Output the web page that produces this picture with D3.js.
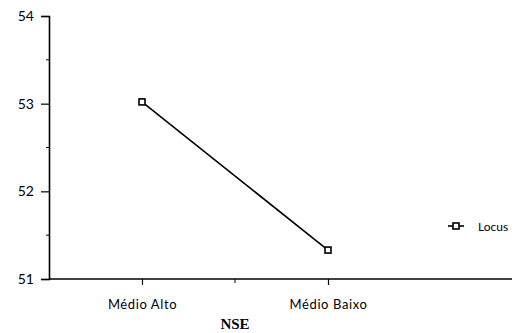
<!DOCTYPE html>
<html><head><meta charset="utf-8">
<script src="https://cdn.jsdelivr.net/npm/d3@7"></script>
<style>body{margin:0;background:#fff}svg{display:block}</style>
</head><body>
<script>
const categories = ["Médio Alto", "Médio Baixo"];
const locusValues = [53.02, 51.33];
const yTicks = [51, 52, 53, 54];
const yMinorTicks = [51.5, 52.5, 53.5];
const seriesName = "Locus";
const xTitle = "NSE";

const W = 525, H = 333;
const svg = d3.select("body").append("svg").attr("width", W).attr("height", H);

const x = d3.scalePoint().domain(categories).range([49, 421]).padding(0.5);
const y = d3.scaleLinear().domain([51, 54]).range([279, 16]);

const font = "'Lato', 'Open Sans', sans-serif";

// Y axis
const yAxis = d3.axisLeft(y).tickValues(yTicks).tickFormat(d3.format("d")).tickSize(8).tickPadding(7);
const gy = svg.append("g").attr("transform", "translate(49,0)").call(yAxis);
gy.select(".domain").attr("stroke", "#000").attr("stroke-width", 1.6);
gy.selectAll(".tick line").attr("stroke", "#000").attr("stroke-width", 1.2);
gy.selectAll(".tick text").attr("font-family", font).attr("font-size", 14).attr("fill", "#000");
svg.append("g").selectAll("line").data(yMinorTicks).join("line")
  .attr("x1", 46).attr("x2", 49).attr("y1", d => y(d)).attr("y2", d => y(d))
  .attr("stroke", "#000").attr("stroke-width", 1);

// X axis
svg.append("line").attr("x1", 49).attr("x2", 512).attr("y1", y(51)).attr("y2", y(51))
  .attr("stroke", "#000").attr("stroke-width", 1.6);
const xAxis = d3.axisBottom(x).tickSize(6).tickPadding(15);
const gx = svg.append("g").attr("transform", `translate(0,${y(51)})`).call(xAxis);
gx.select(".domain").remove();
gx.selectAll(".tick line").attr("stroke", "#000").attr("stroke-width", 1.2);
gx.selectAll(".tick text").attr("font-family", font).attr("font-size", 13)
  .attr("letter-spacing", "0.6px").attr("fill", "#000");
// mid tick between categories
const mid = (x(categories[0]) + x(categories[1])) / 2;
svg.append("line").attr("x1", mid).attr("x2", mid).attr("y1", y(51)).attr("y2", y(51) + 4)
  .attr("stroke", "#000").attr("stroke-width", 1);

// X title
svg.append("text").attr("x", mid).attr("y", 329).attr("text-anchor", "middle")
  .attr("font-family", "'Liberation Serif', 'DejaVu Serif', serif").attr("font-weight", "bold")
  .attr("font-size", 15).attr("fill", "#000").text(xTitle);

// Line
const data = categories.map((c, i) => ({c, v: locusValues[i]}));
svg.append("path").datum(data)
  .attr("d", d3.line().x(d => x(d.c)).y(d => y(d.v)))
  .attr("fill", "none").attr("stroke", "#000").attr("stroke-width", 1.6);
svg.append("g").selectAll("rect").data(data).join("rect")
  .attr("x", d => x(d.c) - 3).attr("y", d => y(d.v) - 3)
  .attr("width", 6).attr("height", 6)
  .attr("fill", "#fff").attr("stroke", "#000").attr("stroke-width", 1.6);

// Legend
const lg = svg.append("g").attr("transform", "translate(456,226)");
lg.append("line").attr("x1", -8).attr("x2", 8).attr("y1", 0).attr("y2", 0)
  .attr("stroke", "#000").attr("stroke-width", 1.6);
lg.append("rect").attr("x", -3).attr("y", -3).attr("width", 6).attr("height", 6)
  .attr("fill", "#fff").attr("stroke", "#000").attr("stroke-width", 1.6);
lg.append("text").attr("x", 22).attr("y", 4.5).attr("font-family", font)
  .attr("font-size", 12).attr("fill", "#000").text(seriesName);
</script>
</body></html>
